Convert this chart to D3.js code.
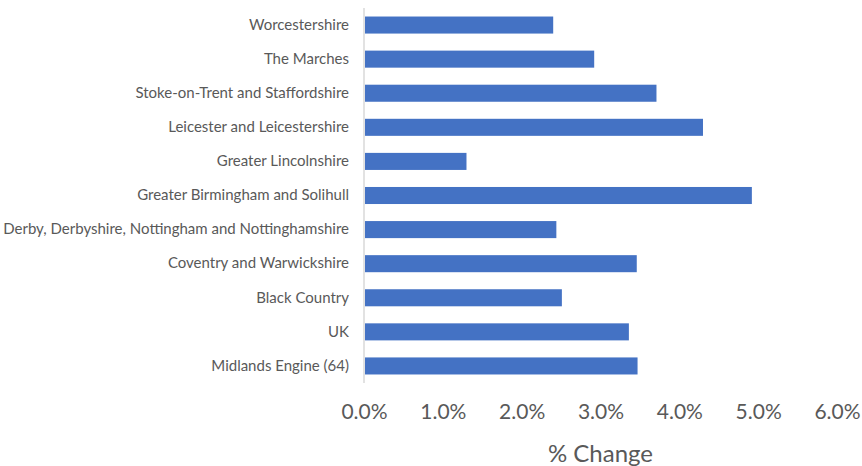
<!DOCTYPE html>
<html><head><meta charset="utf-8">
<script src="https://cdn.jsdelivr.net/npm/d3@7"></script>
<style>body{margin:0;background:#fff;} svg{display:block;}</style>
</head><body>
<svg id="chart" width="862" height="466"></svg>
<script>
const categories = ["Worcestershire","The Marches","Stoke-on-Trent and Staffordshire","Leicester and Leicestershire","Greater Lincolnshire","Greater Birmingham and Solihull","Derby, Derbyshire, Nottingham and Nottinghamshire","Coventry and Warwickshire","Black Country","UK","Midlands Engine (64)"];
const values = [2.40, 2.92, 3.71, 4.30, 1.30, 4.92, 2.44, 3.46, 2.51, 3.36, 3.47];
const xTicks = [0,1,2,3,4,5,6];
const xTitle = "% Change";

(function(){
const svg = d3.select("#chart");
const font = "Lato, 'Open Sans', sans-serif";
const mL = 364, mR = 837, mT = 8, mB = 383;
const x = d3.scaleLinear().domain([0,6]).range([mL,mR]);
const y = d3.scaleBand().domain(categories).range([mT,mB]).paddingInner(0.5).paddingOuter(0.25);

svg.append("g").selectAll("rect").data(categories).join("rect")
  .attr("x", x(0)+1).attr("y", d=>y(d))
  .attr("width", (d,i)=>x(values[i])-x(0)-1).attr("height", y.bandwidth())
  .attr("fill","#4472C4");

svg.append("line").attr("x1",mL).attr("x2",mL).attr("y1",mT).attr("y2",mB)
  .attr("stroke","#D9D9D9").attr("stroke-width",1.5);

const yAxis = d3.axisLeft(y).tickSize(0).tickPadding(15);
const gy = svg.append("g").attr("transform",`translate(${mL},0)`).call(yAxis);
gy.select(".domain").remove();
gy.selectAll("text").attr("font-family",font).attr("font-size",15).attr("fill","#595959");

const xAxis = d3.axisBottom(x).tickValues(xTicks).tickSize(0).tickPadding(0).tickFormat(d=>d3.format(".1f")(d)+"%");
const gx = svg.append("g").attr("transform",`translate(0,${mB+21})`).call(xAxis);
gx.select(".domain").remove();
gx.selectAll("text").attr("font-family",font).attr("font-size",21).attr("fill","#595959").attr("dy","0.71em");

svg.append("text").attr("x",x(3.0)).attr("y",462).attr("text-anchor","middle")
  .attr("font-family",font).attr("font-size",24).attr("fill","#595959").text(xTitle);
})();
</script>
</body></html>
